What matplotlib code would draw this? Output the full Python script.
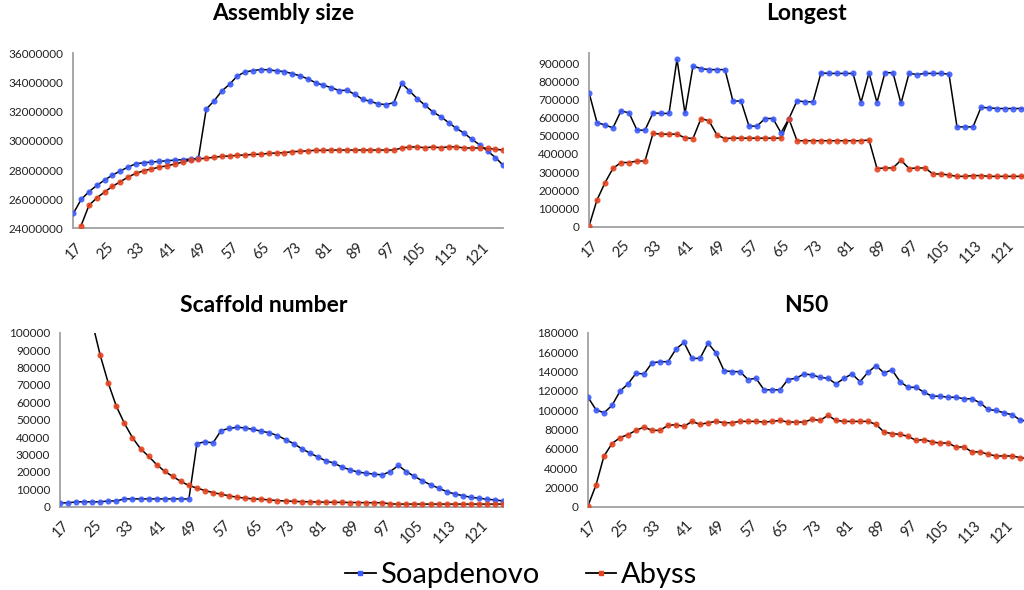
import numpy as np
import matplotlib
matplotlib.use("Agg")
import matplotlib.pyplot as plt
from matplotlib.lines import Line2D
from matplotlib.transforms import ScaledTranslation

plt.rcParams['font.family'] = ['Lato', 'DejaVu Sans']

kmer = list(range(17, 128, 2))
tick_kmers = list(range(17, 122, 8))

asm_soap = [25030000, 25990000, 26520000, 26950000, 27320000, 27660000, 27940000, 28210000,
            28440000, 28510000, 28560000, 28600000, 28650000, 28690000, 28720000, 28760000,
            28810000, 32180000, 32750000, 33430000, 33900000, 34470000, 34740000, 34830000,
            34900000, 34880000, 34810000, 34760000, 34620000, 34470000, 34260000, 34000000,
            33820000, 33660000, 33460000, 33480000, 33200000, 32860000, 32720000, 32540000,
            32500000, 32630000, 33960000, 33430000, 32900000, 32450000, 31990000, 31670000,
            31260000, 30870000, 30530000, 30110000, 29730000, 29310000, 28860000, 28330000]
asm_abyss = [np.nan, 24200000, 25580000, 26100000, 26500000, 26890000, 27200000, 27530000,
             27780000, 27960000, 28080000, 28210000, 28300000, 28420000, 28560000, 28700000,
             28760000, 28830000, 28880000, 28950000, 28970000, 29020000, 29040000, 29080000,
             29100000, 29150000, 29180000, 29200000, 29270000, 29290000, 29330000, 29360000,
             29360000, 29380000, 29380000, 29380000, 29380000, 29380000, 29380000, 29380000,
             29380000, 29380000, 29520000, 29590000, 29590000, 29540000, 29590000, 29540000,
             29600000, 29600000, 29520000, 29520000, 29520000, 29500000, 29430000, 29380000]

long_soap = [738000, 573000, 559000, 544000, 637000, 626000, 531000, 531000, 626000, 623000,
             623000, 921000, 623000, 883000, 870000, 864000, 864000, 864000,
             690000, 692000, 553000, 553000, 595000, 595000, 516000, 595000, 692000, 687000,
             687000, 846000, 843000, 843000, 843000, 843000, 683000, 846000, 683000, 848000,
             846000, 678000, 843000, 837000,
             843000, 843000, 843000, 839000, 549000, 549000, 549000, 656000, 654000, 650000,
             650000, 650000, 650000, 648000]
long_abyss = [3000, 147000, 242000, 321000, 353000, 353000, 361000, 361000, 513000, 509000,
              509000, 509000, 489000, 485000, 595000, 582000, 504000, 485000,
              487000, 487000, 487000, 487000, 487000, 487000, 487000, 592000, 473000, 473000,
              473000, 473000, 473000, 473000, 473000, 473000, 473000, 477000, 320000, 323000,
              323000, 366000, 320000, 323000,
              323000, 290000, 290000, 284000, 277000, 277000, 281000, 281000, 277000, 277000,
              277000, 277000, 277000, 277000]

scaf_soap = [2200, 2200, 2800, 2800, 2800, 2800, 3300, 3300, 4500, 4500, 4500, 4500, 4500,
             4500, 4500, 4500, 4400, 36300,
             37300, 36700, 43800, 45000, 45700, 45300, 44400, 43400, 42500, 40900, 38600,
             36300, 33400, 30900, 28600, 26400, 25100, 22800, 21200, 19900, 19300, 18700,
             18300, 20200,
             23700, 20200, 17400, 14900, 12600, 10700, 8700, 7300, 6400, 5400, 4900, 4300,
             3900, 3300]
scaf_abyss = [240000, 195000, 160000, 130000, 106000, 87000, 71000, 57700, 47900, 39700,
              33300, 29000, 24200, 20300, 17400, 14500, 12200, 10700,
              9300, 8100, 7200, 6200, 5500, 4900, 4500, 4300, 3900, 3500, 3300, 3100, 2900,
              2800, 2700, 2600, 2500, 2500, 2400, 2400, 2300, 2300, 2300, 1600,
              1500, 1500, 1500, 1500, 1500, 1500, 1500, 1500, 1500, 1500, 1500, 1500, 1500, 1500]

n50_soap = [113300, 100300, 97200, 104800, 119500, 127100, 138100, 137400, 148800, 150100,
            150100, 163200, 170000, 153500, 153500, 169400, 159100, 140800,
            139800, 139800, 131600, 132900, 121000, 121000, 121000, 131600, 132900, 137400,
            136400, 133900, 132900, 127100, 132900, 137400, 129500, 139100, 146000, 138500,
            141600, 129500, 123600, 123600,
            118500, 114400, 114400, 113300, 113300, 111700, 111700, 107600, 100700, 99600,
            97200, 95200, 90000, 88000]
n50_abyss = [1000, 22400, 52500, 65300, 71500, 74600, 79000, 82400, 79000, 79000, 84200,
             84900, 83100, 88300, 85200, 86900, 88300, 86900,
             86900, 88300, 88300, 88300, 87600, 88300, 89300, 87600, 87600, 87600, 90400,
             89300, 94500, 89300, 88300, 88300, 88300, 88300, 85200, 77300, 75600, 74900,
             72800, 68700,
             69400, 67000, 65900, 65900, 61800, 61800, 56700, 56700, 54300, 52500, 52500,
             52500, 50900, 49500]

BLUE = '#3d5cff'
RED = '#e8441f'
AXC = '#a0a0a0'

W, H = 1024, 590
fig = plt.figure(figsize=(W / 100, H / 100), dpi=100)


def px_axes(left, right, top, bottom):
    return fig.add_axes([left / W, 1 - bottom / H, (right - left) / W, (bottom - top) / H])


panels = [
    dict(box=(73.3, 503.3, 53.5, 228.5), soap=asm_soap, abyss=asm_abyss,
         ylim=(24000000, 36000000), yticks=range(24000000, 36000001, 2000000),
         title='Assembly size', tpos=(283, 13)),
    dict(box=(589, 1029, 52.7, 226.7), soap=long_soap, abyss=long_abyss,
         ylim=(0, 957000), yticks=range(0, 900001, 100000),
         title='Longest', tpos=(806, 13)),
    dict(box=(60, 503, 332.8, 506.7), soap=scaf_soap, abyss=scaf_abyss,
         ylim=(0, 100000), yticks=range(0, 100001, 10000),
         title='Scaffold number', tpos=(264, 305)),
    dict(box=(588, 1028, 332.8, 506.7), soap=n50_soap, abyss=n50_abyss,
         ylim=(0, 180000), yticks=range(0, 180001, 20000),
         title='N50', tpos=(806, 305)),
]

for p in panels:
    l, r, t, b = p['box']
    ax = px_axes(l, r, t, b)
    for vals, col in ((p['soap'], BLUE), (p['abyss'], RED)):
        ax.plot(kmer, vals, color='black', lw=1.1, zorder=2)
        ax.plot(kmer, vals, ls='none', marker='o', ms=3.4, mfc=col, mec=col,
                alpha=0.85, zorder=3)
    ax.set_xlim(17, 127)
    ax.set_ylim(*p['ylim'])
    ax.set_yticks(list(p['yticks']))
    ax.set_yticklabels([str(v) for v in p['yticks']])
    ax.set_xticks(tick_kmers)
    ax.set_xticklabels([str(k) for k in tick_kmers], rotation=45, ha='right',
                       va='center', rotation_mode='anchor')
    for s in ('top', 'right'):
        ax.spines[s].set_visible(False)
    for s in ('left', 'bottom'):
        ax.spines[s].set_color(AXC)
        ax.spines[s].set_linewidth(1.3)
    ax.tick_params(axis='both', length=0, colors='#222222')
    ax.tick_params(axis='y', pad=7, labelsize=8.5)
    ax.tick_params(axis='x', pad=12, labelsize=10.5)
    for lab in ax.get_xticklabels():
        lab.set_transform(lab.get_transform() + ScaledTranslation(0.07, 0, fig.dpi_scale_trans))
    ax.patch.set_alpha(0)
    fig.text(p['tpos'][0] / W, 1 - p['tpos'][1] / H, p['title'], ha='center', va='center',
             fontsize=16.5, fontweight='bold')

handles = [Line2D([], [], color='black', lw=1.3, marker='s', ms=3.5, mfc=BLUE, mec=BLUE),
           Line2D([], [], color='black', lw=1.3, marker='s', ms=3.5, mfc=RED, mec=RED)]
fig.legend(handles, ['Soapdenovo', 'Abyss'], loc='center', bbox_to_anchor=(521 / W, 1 - 575 / H),
           ncol=2, frameon=False, fontsize=21, handlelength=1.05, handletextpad=0.15,
           columnspacing=1.6, borderpad=0)

fig.savefig('out.png', dpi=100)
